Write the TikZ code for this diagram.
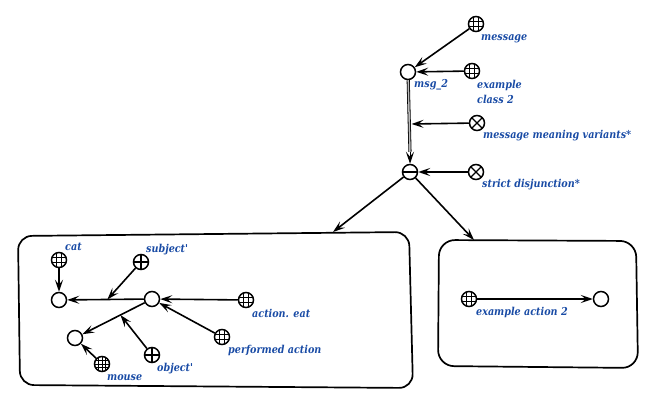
\documentclass[tikz,border=0pt]{standalone}
\usepackage{fontspec}
\setmainfont{DejaVu Serif}
\newfontfamily\labfont[FakeStretch=0.88]{DejaVu Serif}
\usetikzlibrary{arrows.meta,calc}
\definecolor{lblue}{RGB}{25,75,165}
\tikzset{
  x=1pt,y=-1pt,
  basec/.style={circle,draw,line width=1.5pt,minimum size=15pt,inner sep=0pt,fill=white},
  emptyc/.style={basec},
  gridc/.style={basec,path picture={
     \foreach \t in {-2.6,2.6}{
       \draw[line width=0.9pt] ([xshift=\t pt]path picture bounding box.north) -- ([xshift=\t pt]path picture bounding box.south);
       \draw[line width=0.9pt] ([yshift=\t pt]path picture bounding box.west) -- ([yshift=\t pt]path picture bounding box.east);}}},
  densegridc/.style={basec,path picture={
     \foreach \t in {-3.6,0,3.6}{
       \draw[line width=0.9pt] ([xshift=\t pt]path picture bounding box.north) -- ([xshift=\t pt]path picture bounding box.south);
       \draw[line width=0.9pt] ([yshift=\t pt]path picture bounding box.west) -- ([yshift=\t pt]path picture bounding box.east);}}},
  plusc/.style={basec,path picture={
       \draw[line width=1.2pt] (path picture bounding box.north) -- (path picture bounding box.south);
       \draw[line width=1.2pt] (path picture bounding box.west) -- (path picture bounding box.east);}},
  crossc/.style={basec,path picture={
       \draw[line width=1.2pt] (path picture bounding box.north west) -- (path picture bounding box.south east);
       \draw[line width=1.2pt] (path picture bounding box.south west) -- (path picture bounding box.north east);}},
  minusc/.style={basec,path picture={
       \draw[line width=1.4pt] (path picture bounding box.west) -- (path picture bounding box.east);}},
  arr/.style={-{Stealth[length=12pt,width=8pt,inset=5pt]},line width=1.6pt},
  lab/.style={text=lblue,font=\labfont\fontsize{10.9}{15}\selectfont\bfseries\itshape,inner sep=0pt,anchor=west,align=left},
  boxline/.style={line width=1.7pt,rounded corners=14pt},
}
\begin{document}
\begin{tikzpicture}
\useasboundingbox (0,0) rectangle (670,420);
% top part
\node[gridc] (message) at (476,24) {};
\node[emptyc] (msg2) at (408,72) {};
\node[gridc] (excl) at (472,71) {};
\node[crossc] (mmv) at (477,123) {};
\node[minusc] (disj) at (410,172) {};
\node[crossc] (strict) at (476,172) {};
\node[lab] (lmessage) at (481,39) {message};
\node[lab] (lmsg2) at (414,85) {msg\_2};
\node[lab] (lexcl) at (477,92) {example\\class 2};
\node[lab] (lmmv) at (483,136) {message meaning variants*};
\node[lab] (lstrict) at (482,185) {strict disjunction*};
\draw[arr] (message) -- (msg2);
\draw[arr] (excl) -- (msg2);
\coordinate (dtip) at ($(disj.north)+(0,-12)$);
\draw[double=gray!55,double distance=1.5pt,line width=0.8pt] (msg2) -- (dtip);
\draw[arr,line width=1pt] (dtip) -- (disj);
\coordinate (mmvt) at ($(msg2)!0.52!(disj)+(2.5,0)$);
\draw[arr] (mmv) -- (mmvt);
\draw[arr] (strict) -- (disj);
\coordinate (lbt) at (333,232);
\coordinate (rbt) at (474,240);
\draw[arr] (disj) -- (lbt);
\draw[arr] (disj) -- (rbt);
% boxes
\draw[boxline] (18,236) -- (409,232) -- (413,388) -- (20,385) -- cycle;
\draw[boxline,rounded corners=16pt] (439,240) -- (636,241) -- (638,368) -- (438,366) -- cycle;
% left box
\node[gridc] (cat) at (59,260) {};
\node[emptyc] (A) at (59,300) {};
\node[plusc] (subj) at (141,262) {};
\node[emptyc] (B) at (152,299) {};
\node[gridc] (eat) at (246,300) {};
\node[gridc] (perf) at (222,337) {};
\node[emptyc] (C) at (75,338) {};
\node[densegridc] (mouse) at (102,364) {};
\node[plusc] (obj) at (152,355) {};
\node[lab] (lcat) at (65,247) {cat};
\node[lab] (lsubj) at (146,250) {subject'};
\node[lab] (leat) at (252,313) {action. eat};
\node[lab] (lperf) at (228,350) {performed action};
\node[lab] (lmouse) at (107,378) {mouse};
\node[lab] (lobj) at (157,369) {object'};
\draw[arr] (cat) -- (A);
\draw[arr] (B) -- (A);
\coordinate (sj) at ($(B)!0.48!(A)$);
\draw[arr] (subj) -- (sj);
\draw[arr] (eat) -- (B);
\draw[arr] (perf) -- (B);
\draw[arr] (B) -- (C);
\coordinate (oj) at ($(B)!0.41!(C)$);
\draw[arr] (obj) -- (oj);
\draw[arr] (mouse) -- (C);
% right box
\node[gridc] (exa) at (469,299) {};
\node[emptyc] (D) at (601,299) {};
\node[lab] (lexa) at (476,312) {example action 2};
\draw[arr] (exa) -- (D);
\end{tikzpicture}
\end{document}
